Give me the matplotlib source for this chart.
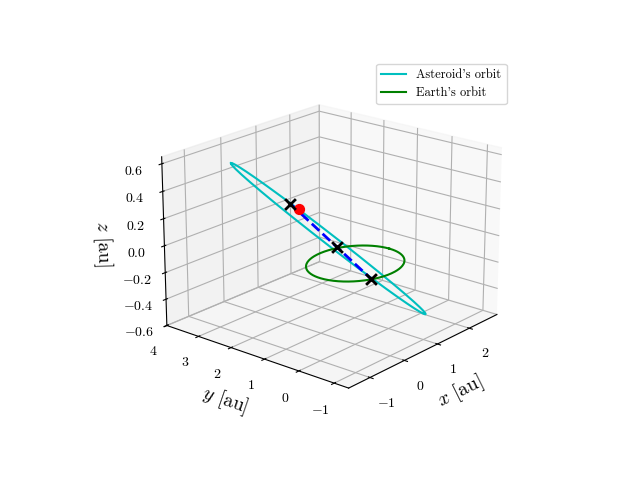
import numpy as np
import matplotlib
matplotlib.use("Agg")
import matplotlib.pyplot as plt

plt.rcParams['mathtext.fontset'] = 'cm'
plt.rcParams['font.family'] = 'serif'
plt.rcParams['font.serif'] = ['cmr10']
plt.rcParams['axes.formatter.use_mathtext'] = True

# asteroid ellipse description (center, semi-axis vectors)
ast_center = [-0.3, 0.45, 0.17]
ast_u = [-1.06, 1.72, 0.53]
ast_v = [0.2, 0.1, 0.0]
earth_radius = 1.0
# trajectory points
traj_start = [-0.72, 1.14, 0.42]
red_dot = [-0.62, 1.0, 0.38]
traj_mid = [-0.22, 0.31, 0.12]
traj_end = [0.16, -0.29, -0.11]

t = np.linspace(0, 2*np.pi, 300)
c, u, v = map(np.array, (ast_center, ast_u, ast_v))
ast = c[:, None] + u[:, None]*np.cos(t) + v[:, None]*np.sin(t)
ex, ey, ez = earth_radius*np.cos(t), earth_radius*np.sin(t), 0*t

fig = plt.figure(figsize=(6.4, 4.8), dpi=100)
ax = fig.add_subplot(projection='3d')
ax.plot(*ast, color='c', label="Asteroid's orbit")
ax.plot(ex, ey, ez, color='g', label="Earth's orbit")
ax.plot(*zip(traj_start, traj_end), 'b--', lw=2)
ax.scatter(*[[p] for p in red_dot], color='r', s=50)
ax.scatter(*[[p] for p in traj_end], color='r', marker='x', s=40)
for p in (traj_start, traj_mid, traj_end):
    ax.scatter(*[[q] for q in p], color='k', marker='x', s=60, linewidths=2)
ax.set_xlim(-1.6, 2.9)
ax.set_ylim(-1.4, 4.0)
ax.set_zlim(-0.6, 0.65)
ax.set_xticks([-1, 0, 1, 2])
ax.set_yticks([-1, 0, 1, 2, 3, 4])
ax.set_zticks([-0.6, -0.4, -0.2, 0.0, 0.2, 0.4, 0.6])
ax.set_xlabel(r'$x$ [au]', fontsize=14)
ax.set_ylabel(r'$y$ [au]', fontsize=14)
ax.set_zlabel(r'$z$ [au]', fontsize=14)
ax.view_init(elev=20, azim=-140)
ax.legend(loc='upper right', fontsize=9)
fig.savefig('out.png')
